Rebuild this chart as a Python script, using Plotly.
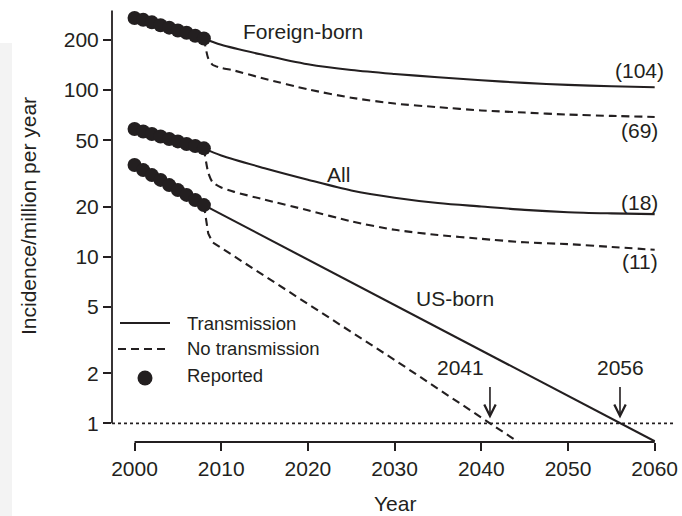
import math
import plotly.graph_objects as go

# ---- data: incidence per million per year ----
report_years = [2000, 2001, 2002, 2003, 2004, 2005, 2006, 2007, 2008]
fb_reported = [271, 264, 255, 245, 237, 228, 221, 212, 204]
all_reported = [58.4, 56.4, 54.5, 52.7, 50.9, 49.2, 47.5, 46.2, 44.7]
us_reported = [35.5, 33.1, 30.9, 28.9, 26.9, 25.1, 23.5, 21.9, 20.4]

proj_years = [2008, 2010, 2015, 2020, 2025, 2030, 2035, 2040, 2045, 2050, 2055, 2060]
fb_trans = [204, 187, 162, 143, 132, 125, 119.5, 114.5, 110.5, 107.5, 105.5, 104]
all_trans = [44.7, 40.5, 34, 29, 25, 22.6, 21, 20, 19.1, 18.5, 18.2, 18]

drop_years = [2008, 2008.5, 2009, 2010, 2011.5, 2015, 2020, 2025, 2030, 2035, 2040, 2045, 2050, 2055, 2060]
fb_notrans = [204, 155, 142, 136, 131, 117, 101, 90, 83, 79, 75.5, 73.3, 71.3, 70, 69]
all_notrans = [44.7, 32, 28, 26, 24.5, 22, 19, 16.3, 14.5, 13.5, 12.8, 12.2, 11.9, 11.45, 11]

us_trans_years = [2008, 2060]
us_trans = [20.4, 0.78]
us_notrans_years = [2008, 2008.5, 2009, 2020, 2030, 2041, 2045]
us_notrans = [20.4, 13.8, 12.2, 5.2, 2.4, 1.0, 0.73]

end_labels = ["(104)", "(69)", "(18)", "(11)"]
end_values = [104, 69, 18, 11]
cross_years = [2041, 2056]

y_ticks = [1, 2, 5, 10, 20, 50, 100, 200]
x_ticks = [2000, 2010, 2020, 2030, 2040, 2050, 2060]

# ---- styling ----
INK = "#231f20"
FONT = "Liberation Sans, Arial, sans-serif"
DASH = "8px,5px"
W, H = 682, 516
ML, MR, MT, MB = 112, 4, 5, 74
PW, PH = W - ML - MR, H - MT - MB


def px_x(px):
    return (px - ML) / PW


def px_y(py):
    return (H - MB - py) / PH


fig = go.Figure()


def add_curve(x, y, dash, shape="spline", smoothing=0.5):
    fig.add_trace(go.Scatter(
        x=x, y=y, mode="lines", showlegend=False, hoverinfo="skip",
        line=dict(color=INK, width=2.1, dash=dash, shape=shape, smoothing=smoothing),
    ))


add_curve(proj_years, fb_trans, "solid", smoothing=0.9)
add_curve(drop_years, fb_notrans, DASH, smoothing=0.6)
add_curve(proj_years, all_trans, "solid", smoothing=0.9)
add_curve(drop_years, all_notrans, DASH, smoothing=0.6)
add_curve(us_trans_years, us_trans, "solid", shape="linear")
add_curve(us_notrans_years, us_notrans, DASH, shape="linear")

for vals in (fb_reported, all_reported, us_reported):
    fig.add_trace(go.Scatter(
        x=report_years, y=vals, mode="markers", showlegend=False, hoverinfo="skip",
        marker=dict(color=INK, size=14, line=dict(width=0)),
    ))

shapes = [
    # light strip at the left page edge
    dict(type="rect", xref="paper", yref="paper", x0=px_x(0), x1=px_x(12),
         y0=px_y(516), y1=px_y(43), fillcolor="#f3f3f3", line=dict(width=0), layer="below"),
    # detached axis lines
    dict(type="line", xref="paper", yref="y", x0=0, x1=0, y0=1, y1=300,
         line=dict(color=INK, width=1.8)),
    dict(type="line", xref="x", yref="paper", x0=2000, x1=2060, y0=0, y1=0,
         line=dict(color=INK, width=1.8)),
    # elimination threshold
    dict(type="line", xref="paper", yref="y", x0=0, x1=px_x(675), y0=1, y1=1,
         line=dict(color=INK, width=1.8, dash="3px,3px")),
    # legend samples
    dict(type="line", xref="paper", yref="paper", x0=px_x(120), x1=px_x(170),
         y0=px_y(323), y1=px_y(323), line=dict(color=INK, width=2.1)),
    dict(type="line", xref="paper", yref="paper", x0=px_x(118), x1=px_x(170),
         y0=px_y(349), y1=px_y(349), line=dict(color=INK, width=2.1, dash=DASH)),
    dict(type="circle", xref="paper", yref="paper", xsizemode="pixel", ysizemode="pixel",
         xanchor=px_x(145), yanchor=px_y(378), x0=-7.5, x1=7.5, y0=-7.5, y1=7.5,
         fillcolor=INK, line=dict(width=0)),
]


def ann(text, x, y, size=21, xanchor="center", xref="x", yref="y", **kw):
    d = dict(text=text, x=x, y=y, xref=xref, yref=yref, showarrow=False,
             xanchor=xanchor, yanchor="middle", font=dict(family=FONT, size=size, color=INK))
    d.update(kw)
    return d


annotations = [
    ann("Foreign-born", 2019.4, 2.349),
    ann("All", 2023.5, 1.496),
    ann("US-born", 2037.0, 0.752),
]
# end-of-projection value labels
label_pos = [2.115, 1.755, 1.325, 0.974]
for txt, ly in zip(end_labels, label_pos):
    annotations.append(ann(txt, 2058.3, ly))

# crossing-year labels with arrows
label_x = {2041: 2037.55, 2056: 2056.1}
for yr in cross_years:
    annotations.append(ann(str(yr), label_x[yr], 0.335))
    annotations.append(dict(
        text="", x=yr, y=math.log10(1.07), xref="x", yref="y",
        showarrow=True, ax=0, ay=-33, arrowhead=5, arrowsize=1.4, arrowwidth=1.6,
        arrowcolor=INK,
    ))

# legend text
annotations += [
    ann("Transmission", px_x(185), px_y(323), size=18.5, xanchor="left", xref="paper", yref="paper"),
    ann("No transmission", px_x(185), px_y(348.5), size=18.5, xanchor="left", xref="paper", yref="paper"),
    ann("Reported", px_x(185), px_y(375), size=18.5, xanchor="left", xref="paper", yref="paper"),
]

# axis titles
annotations += [
    ann("Year", 0.5, px_y(503), xref="paper", yref="paper"),
    ann("Incidence/million per year", px_x(28), px_y(216), xref="paper", yref="paper", textangle=-90),
]

fig.update_layout(
    width=W, height=H,
    margin=dict(l=ML, r=MR, t=MT, b=MB, pad=0),
    paper_bgcolor="white", plot_bgcolor="white",
    font=dict(family=FONT, size=21, color=INK),
    showlegend=False,
    shapes=shapes,
    annotations=annotations,
    xaxis=dict(
        range=[1997.40, 2062.69], tickvals=x_ticks, ticks="outside", ticklen=8,
        tickwidth=1.8, tickcolor=INK, showgrid=False, zeroline=False, showline=False,
        tickfont=dict(family=FONT, size=21, color=INK),
    ),
    yaxis=dict(
        type="log", range=[-0.1122, 2.5108], tickvals=y_ticks,
        ticktext=[str(v) for v in y_ticks], ticks="outside", ticklen=8,
        tickwidth=1.8, tickcolor=INK, showgrid=False, zeroline=False, showline=False,
        tickfont=dict(family=FONT, size=21, color=INK),
    ),
)

fig.write_html("out.html")
